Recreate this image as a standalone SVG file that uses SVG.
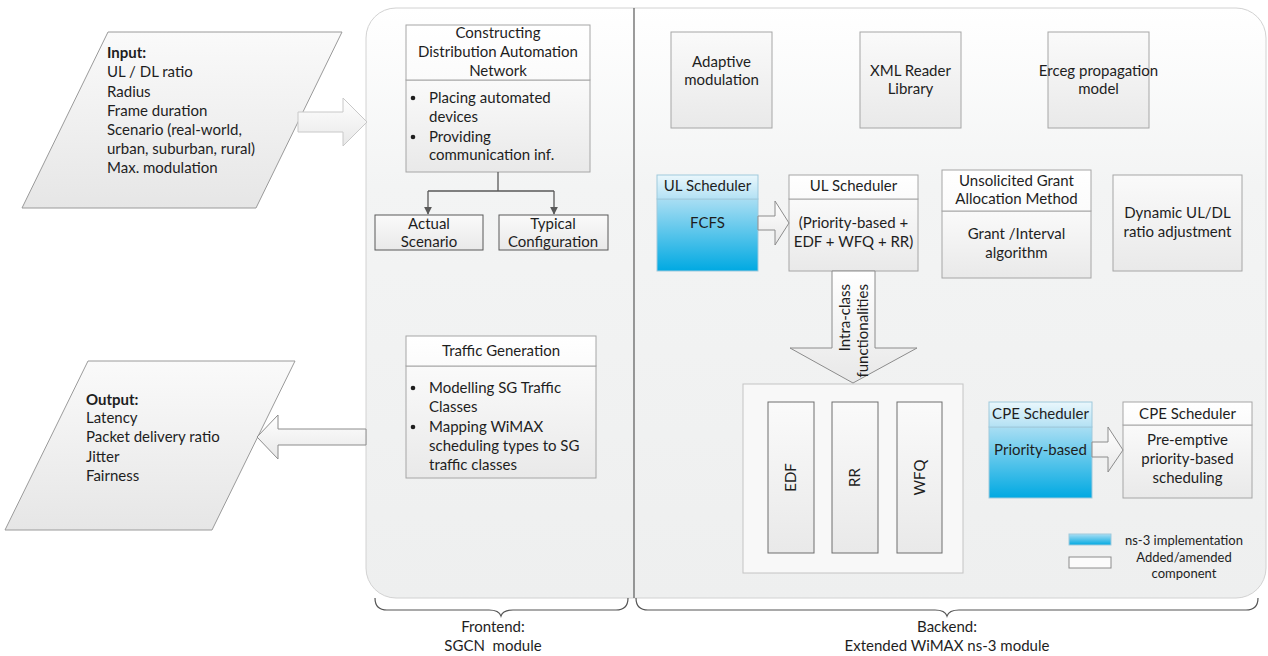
<svg xmlns="http://www.w3.org/2000/svg" width="1268" height="656" viewBox="0 0 1268 656">
  <defs>
    <linearGradient id="gPanel" x1="0" y1="0" x2="0" y2="1">
      <stop offset="0" stop-color="#ffffff"/>
      <stop offset="0.3" stop-color="#f3f4f4"/>
      <stop offset="1" stop-color="#eeefef"/>
    </linearGradient>
    <linearGradient id="gBody" x1="0" y1="0" x2="0" y2="1">
      <stop offset="0" stop-color="#fafafa"/>
      <stop offset="1" stop-color="#e9e9e9"/>
    </linearGradient>
    <linearGradient id="gHead" x1="0" y1="0" x2="0" y2="1">
      <stop offset="0" stop-color="#ffffff"/>
      <stop offset="1" stop-color="#fbfbfb"/>
    </linearGradient>
    <linearGradient id="gBlueHead" x1="0" y1="0" x2="0" y2="1">
      <stop offset="0" stop-color="#eaf7fc"/>
      <stop offset="1" stop-color="#b3e1f4"/>
    </linearGradient>
    <linearGradient id="gBlue" x1="0" y1="0" x2="0" y2="1">
      <stop offset="0" stop-color="#a9def3"/>
      <stop offset="1" stop-color="#00a9e2"/>
    </linearGradient>
    <linearGradient id="gShape" x1="0" y1="0" x2="0" y2="1">
      <stop offset="0" stop-color="#fafafa"/>
      <stop offset="1" stop-color="#e6e6e6"/>
    </linearGradient>
    <linearGradient id="gArrow" x1="0" y1="0" x2="0" y2="1">
      <stop offset="0" stop-color="#ffffff"/>
      <stop offset="1" stop-color="#e8e8e8"/>
    </linearGradient>
    <marker id="tri" viewBox="0 0 10 10" refX="9" refY="5" markerWidth="6" markerHeight="6" orient="auto">
      <path d="M0,0 L10,5 L0,10 z" fill="#595959"/>
    </marker>
  </defs>
  <style>
    text { font-family: Lato, "Open Sans", sans-serif; font-size: 15px; fill: #1e1e1e; }
    .c { text-anchor: middle; }
    .b { font-weight: bold; }
    .sm { font-size: 13px; }
    .box { fill: url(#gBody); stroke: #a6a6a6; stroke-width: 1; }
    .head { fill: url(#gHead); stroke: #a6a6a6; stroke-width: 1; }
    .dark { fill: url(#gBody); stroke: #595959; stroke-width: 1; }
    .bhead { fill: url(#gBlueHead); stroke: #9fc9dc; stroke-width: 1; }
    .bbody { fill: url(#gBlue); stroke: #9fc9dc; stroke-width: 1; }
    .bar { fill: url(#gBody); stroke: #6e6e6e; stroke-width: 1; }
    .frame { fill: #f8f8f8; stroke: #c4c4c4; stroke-width: 1; }
    .hollow { fill: url(#gArrow); stroke: #8c8c8c; stroke-width: 1; }
    .line { fill: none; stroke: #595959; stroke-width: 1.3; }
    .brace { fill: none; stroke: #555555; stroke-width: 1.2; }
    .dot { fill: #1e1e1e; }
  </style>

  <!-- module panel with frontend / backend split -->
  <g id="panel">
    <rect x="366" y="8" width="900" height="590" rx="30" ry="30" fill="url(#gPanel)" stroke="#d2d2d2"/>
    <line x1="634" y1="8" x2="634" y2="598" stroke="#595959" stroke-width="1.2"/>
  </g>

  <!-- inputs -->
  <g id="input">
    <polygon points="108,32 342,32 256,208 22,208" fill="url(#gShape)" stroke="#9a9a9a"/>
    <text x="107" y="58" class="b">Input:</text>
    <text x="107" y="77">UL / DL ratio</text>
    <text x="107" y="97">Radius</text>
    <text x="107" y="116">Frame duration</text>
    <text x="107" y="135">Scenario (real-world,</text>
    <text x="107" y="154">urban, suburban, rural)</text>
    <text x="107" y="173">Max. modulation</text>
  </g>

  <!-- outputs -->
  <g id="output">
    <polygon points="88,361 295,361 212,530 5,530" fill="url(#gShape)" stroke="#9a9a9a"/>
    <text x="86" y="405" class="b">Output:</text>
    <text x="86" y="423">Latency</text>
    <text x="86" y="442">Packet delivery ratio</text>
    <text x="86" y="462">Jitter</text>
    <text x="86" y="481">Fairness</text>
  </g>

  <!-- frontend -->
  <g id="da-network">
    <rect x="406" y="80" width="184" height="92" class="box"/>
    <rect x="406" y="25" width="184" height="55" class="head"/>
    <text x="498" y="38" class="c">Constructing</text>
    <text x="498" y="57" class="c">Distribution Automation</text>
    <text x="498" y="76" class="c">Network</text>
    <circle cx="413" cy="98" r="2.3" class="dot"/>
    <circle cx="413" cy="137" r="2.3" class="dot"/>
    <text x="429" y="103">Placing automated</text>
    <text x="429" y="122">devices</text>
    <text x="429" y="142">Providing</text>
    <text x="429" y="160">communication inf.</text>
  </g>
  <g id="actual-scenario">
    <rect x="375" y="215" width="108" height="35" class="dark"/>
    <text x="429" y="229" class="c">Actual</text>
    <text x="429" y="247" class="c">Scenario</text>
  </g>
  <g id="typical-configuration">
    <rect x="499" y="215" width="109" height="35" class="dark"/>
    <text x="553" y="229" class="c">Typical</text>
    <text x="553" y="247" class="c">Configuration</text>
  </g>
  <g id="traffic-generation">
    <rect x="406" y="366" width="190" height="112" class="box"/>
    <rect x="406" y="336" width="190" height="30" class="head"/>
    <text x="501" y="356" class="c">Traffic Generation</text>
    <circle cx="413" cy="388" r="2.3" class="dot"/>
    <circle cx="413" cy="427" r="2.3" class="dot"/>
    <text x="429" y="393">Modelling SG Traffic</text>
    <text x="429" y="412">Classes</text>
    <text x="429" y="432">Mapping WiMAX</text>
    <text x="429" y="451">scheduling types to SG</text>
    <text x="429" y="470">traffic classes</text>
  </g>

  <!-- backend -->
  <g id="adaptive-modulation">
    <rect x="671" y="32" width="101" height="96" class="box"/>
    <text x="721.5" y="67" class="c">Adaptive</text>
    <text x="721.5" y="85" class="c">modulation</text>
  </g>
  <g id="xml-reader">
    <rect x="860" y="32" width="101" height="96" class="box"/>
    <text x="910.5" y="76" class="c">XML Reader</text>
    <text x="910.5" y="94" class="c">Library</text>
  </g>
  <g id="erceg">
    <rect x="1048" y="32" width="101" height="96" class="box"/>
    <text x="1098.5" y="76" class="c">Erceg propagation</text>
    <text x="1098.5" y="94" class="c">model</text>
  </g>

  <g id="ul-scheduler-ns3">
    <rect x="657" y="199" width="101" height="72" class="bbody"/>
    <rect x="657" y="175" width="101" height="24" class="bhead"/>
    <text x="707.5" y="191" class="c">UL Scheduler</text>
    <text x="707.5" y="228" class="c">FCFS</text>
  </g>
  <g id="ul-scheduler">
    <rect x="789" y="199" width="129" height="72" class="box"/>
    <rect x="789" y="175" width="129" height="24" class="head"/>
    <text x="853.5" y="191" class="c">UL Scheduler</text>
    <text x="853.5" y="228" class="c">(Priority-based +</text>
    <text x="853.5" y="247" class="c">EDF + WFQ + RR)</text>
  </g>
  <g id="ugs-allocation">
    <rect x="942" y="211" width="149" height="67" class="box"/>
    <rect x="942" y="170" width="149" height="41" class="head"/>
    <text x="1016.5" y="186" class="c">Unsolicited Grant</text>
    <text x="1016.5" y="204" class="c">Allocation Method</text>
    <text x="1016.5" y="239" class="c">Grant /Interval</text>
    <text x="1016.5" y="258" class="c">algorithm</text>
  </g>
  <g id="dynamic-ratio">
    <rect x="1113" y="175" width="129" height="96" class="box"/>
    <text x="1177.5" y="218" class="c">Dynamic UL/DL</text>
    <text x="1177.5" y="237" class="c">ratio adjustment</text>
  </g>

  <g id="intra-class">
    <rect x="743" y="384" width="220" height="189" class="frame"/>
    <rect x="768" y="402" width="46" height="151" class="bar"/>
    <rect x="832" y="402" width="46" height="151" class="bar"/>
    <rect x="897" y="402" width="45" height="151" class="bar"/>
    <text transform="translate(796,477.5) rotate(-90)" class="c">EDF</text>
    <text transform="translate(860,477.5) rotate(-90)" class="c">RR</text>
    <text transform="translate(924.5,477.5) rotate(-90)" class="c">WFQ</text>
  </g>

  <g id="cpe-scheduler-ns3">
    <rect x="989" y="427" width="103" height="71" class="bbody"/>
    <rect x="989" y="402" width="103" height="25" class="bhead"/>
    <text x="1040.5" y="419" class="c">CPE Scheduler</text>
    <text x="1040.5" y="455" class="c">Priority-based</text>
  </g>
  <g id="cpe-scheduler">
    <rect x="1123" y="425" width="129" height="73" class="box"/>
    <rect x="1123" y="402" width="129" height="23" class="head"/>
    <text x="1187.5" y="419" class="c">CPE Scheduler</text>
    <text x="1187.5" y="445" class="c">Pre-emptive</text>
    <text x="1187.5" y="464" class="c">priority-based</text>
    <text x="1187.5" y="483" class="c">scheduling</text>
  </g>

  <g id="legend">
    <rect x="1069" y="534" width="42" height="11" class="bbody" stroke="#7a9aa8"/>
    <rect x="1069" y="557" width="42" height="11" fill="#fbfbfb" stroke="#8c8c8c"/>
    <text x="1184" y="544.5" class="c sm">ns-3 implementation</text>
    <text x="1184" y="561.5" class="c sm">Added/amended</text>
    <text x="1184" y="577.5" class="c sm">component</text>
  </g>

  <!-- connectors -->
  <g id="connectors">
    <path d="M298,112 H343 V98 L367,122 L343,146 V132 H298 Z" fill="url(#gArrow)" stroke="#c8c8c8"/>
    <path d="M366,429 H278 V415 L257,437 L278,459 V445 H366 Z" class="hollow"/>
    <path d="M758,216 H775 V201 L789,223 L775,245 V230 H758 Z" class="hollow"/>
    <path d="M1092,442 H1108 V427 L1123,450 L1108,472 V457 H1092 Z" class="hollow"/>
    <path d="M832,271 V348 H790 L853,383 L917,348 H875 V271 Z" class="hollow"/>
    <text transform="translate(850,284) rotate(-90)" style="text-anchor:end">Intra-class</text>
    <text transform="translate(868,284) rotate(-90)" style="text-anchor:end">functionalities</text>
    <path d="M498,172 V191" class="line"/>
    <path d="M428,191 H554" class="line"/>
    <path d="M428,191 V214" class="line" marker-end="url(#tri)"/>
    <path d="M554,191 V214" class="line" marker-end="url(#tri)"/>
  </g>

  <!-- module braces and captions -->
  <g id="frontend-label">
    <path d="M375,598 q0,12 12,12 H489 q10,0 12,6 q2,-6 12,-6 H616 q12,0 12,-12" class="brace"/>
    <text x="493" y="632" class="c">Frontend:</text>
    <text x="493" y="651" class="c">SGCN&#160; module</text>
  </g>
  <g id="backend-label">
    <path d="M636,598 q0,12 12,12 H935 q10,0 12,6 q2,-6 12,-6 H1246 q12,0 12,-12" class="brace"/>
    <text x="947" y="632" class="c">Backend:</text>
    <text x="947" y="651" class="c">Extended WiMAX ns-3 module</text>
  </g>
</svg>
